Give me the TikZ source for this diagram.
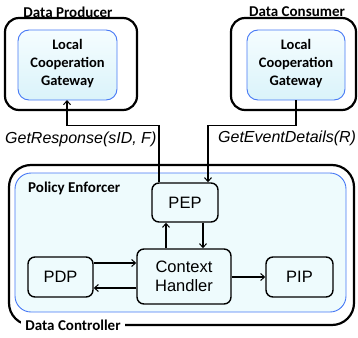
\documentclass[tikz,border=0pt]{standalone}
\usepackage{fontspec}
\setmainfont{Carlito}
\newfontfamily\arialf{Liberation Sans}
\usetikzlibrary{arrows.meta}
\definecolor{boxfill}{RGB}{238,251,253}
\definecolor{gwtop}{RGB}{245,253,255}
\definecolor{gwbot}{RGB}{218,243,250}
\definecolor{blueline}{RGB}{70,120,245}
\tikzset{
  outerbox/.style={draw=black, line width=2.2pt, rounded corners=14pt},
  gwbox/.style={draw=blueline, line width=0.9pt, rounded corners=11pt, top color=gwtop, bottom color=gwbot},
  pebox/.style={draw=blueline, line width=0.9pt, rounded corners=16pt, fill=boxfill},
  comp/.style={draw=black, line width=1.4pt, rounded corners=7pt, fill=boxfill, font=\arialf\fontsize{16.5}{19}\selectfont, align=center, inner sep=0pt},
  title/.style={font=\bfseries\fontsize{15}{16}\selectfont, inner sep=1pt},
  gwtext/.style={font=\bfseries\fontsize{14.5}{18}\selectfont, align=center},
  conn/.style={line width=1.4pt, -{Straight Barb[length=4pt,width=7pt,line width=1pt]}},
  msg/.style={font=\arialf\itshape\fontsize{16}{18}\selectfont, inner sep=0pt}
}
\begin{document}
\begin{tikzpicture}[x=1pt,y=-1pt]
\useasboundingbox (0,0) rectangle (358,337);
% Producer
\draw[outerbox] (5,18) rectangle (137,110);
\node[title] (prodlbl) at (68,12) {Data Producer};
\draw[gwbox] (18,30) rectangle (117,100);
\node[gwtext] (gw1) at (67.5,64) {Local\\Cooperation\\Gateway};
\coordinate (gw1b) at (67,100);
% Consumer
\draw[outerbox] (231,18) rectangle (356,110);
\node[title] (conslbl) at (297,12) {Data Consumer};
\draw[gwbox] (247,30) rectangle (345,100);
\node[gwtext] (gw2) at (296,64) {Local\\Cooperation\\Gateway};
\coordinate (gw2b) at (296,100);
% Controller
\draw[outerbox, rounded corners=22pt] (9,165) rectangle (354,325);
\node[title, fill=white, inner sep=4pt] (ctrllbl) at (73,325) {Data Controller};
\draw[pebox] (15,173) rectangle (346,312);
\node[title, anchor=west] (pelbl) at (27,188) {Policy Enforcer};
% components
\node[comp, minimum width=66pt, minimum height=39pt] (pep) at (185,202.5) {PEP};
\node[comp, minimum width=94pt, minimum height=55pt] (ch) at (184,276.5) {Context\\Handler};
\node[comp, minimum width=65pt, minimum height=40pt] (pdp) at (60.5,277) {PDP};
\node[comp, minimum width=67pt, minimum height=40pt] (pip) at (299.5,277) {PIP};
% messages
\draw[conn] (pep.north -| 159,0) |- (67,125.5) -- (gw1b);
\draw[conn] (gw2b) |- (208,125.5) -- (pep.north -| 208,0);
\node[msg, anchor=west] (m1) at (5,139) {GetResponse(sID, F)};
\node[msg, anchor=west] (m2) at (218,138) {GetEventDetails(R)};
% internal
\draw[conn] (ch.north -| 166,0) -- (pep.south -| 166,0);
\draw[conn] (pep.south -| 203,0) -- (ch.north -| 203,0);
\draw[conn] (pdp.east |- 0,263) -- (ch.west |- 0,263);
\draw[conn] (ch.west |- 0,288) -- (pdp.east |- 0,288);
\draw[conn] (ch.east |- 0,277) -- (pip.west |- 0,277);
\end{tikzpicture}
\end{document}
